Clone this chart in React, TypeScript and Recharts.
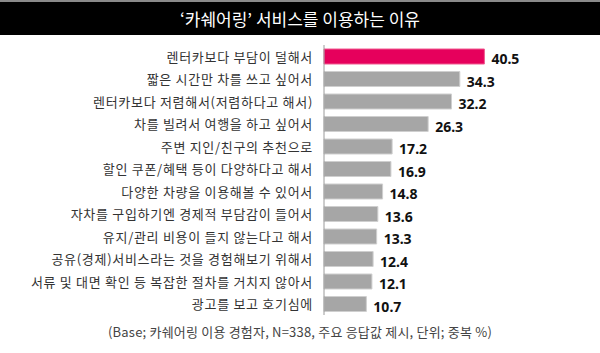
import React from "react";
import { BarChart, Bar, XAxis, YAxis, Cell, LabelList } from "recharts";

const categories = [
  "렌터카보다 부담이 덜해서",
  "짧은 시간만 차를 쓰고 싶어서",
  "렌터카보다 저렴해서(저렴하다고 해서)",
  "차를 빌려서 여행을 하고 싶어서",
  "주변 지인/친구의 추천으로",
  "할인 쿠폰/혜택 등이 다양하다고 해서",
  "다양한 차량을 이용해볼 수 있어서",
  "자차를 구입하기엔 경제적 부담감이 들어서",
  "유지/관리 비용이 들지 않는다고 해서",
  "공유(경제)서비스라는 것을 경험해보기 위해서",
  "서류 및 대면 확인 등 복잡한 절차를 거치지 않아서",
  "광고를 보고 호기심에",
];
const values = [40.5, 34.3, 32.2, 26.3, 17.2, 16.9, 14.8, 13.6, 13.3, 12.4, 12.1, 10.7];
const title = "‘카쉐어링’ 서비스를 이용하는 이유";
const footnote = "(Base; 카쉐어링 이용 경험자, N=338, 주요 응답값 제시, 단위; 중복 %)";

const data = categories.map((name, i) => ({ name, value: values[i] }));
const FONT = "'Noto Sans CJK KR', 'Noto Sans', sans-serif";

const ValueLabel = (props: any) => {
  const { x, y, width, height, value } = props;
  return (
    <text
      x={x + width + 7}
      y={y + height / 2 + 4}
      dominantBaseline="middle"
      textAnchor="start"
      fontFamily="'Noto Sans', sans-serif"
      fontWeight={700}
      fontSize={14}
      fill="#111"
    >
      {Number(value).toFixed(1)}
    </text>
  );
};

const CategoryTick = (props: any) => {
  const { x, y, payload } = props;
  return (
    <text
      x={x}
      y={y + 2}
      dominantBaseline="middle"
      textAnchor="end"
      fontFamily={FONT}
      fontSize={13}
      letterSpacing={0.7}
      fill="#333"
    >
      {payload.value}
    </text>
  );
};

export default function App() {
  return (
    <div style={{ position: "absolute", left: 0, top: 0, width: 600, height: 353, background: "#fff", fontFamily: FONT }}>
      <div style={{ position: "absolute", left: 0, top: 0, width: 600, height: 2, background: "#8a8a8a" }} />
      <div
        style={{
          position: "absolute",
          left: 0,
          top: 2,
          width: 600,
          height: 33,
          background: "#000",
          color: "#fff",
          fontSize: 17,
          lineHeight: "33px",
          textAlign: "center",
        }}
      >
        {title}
      </div>
      <div style={{ position: "absolute", left: 0, top: 0 }}>
        <BarChart
          width={600}
          height={353}
          data={data}
          layout="vertical"
          margin={{ top: 45, right: 78, bottom: 38, left: 0 }}
          barCategoryGap={3.75}
        >
          <XAxis type="number" domain={[0, 50]} hide />
          <YAxis
            type="category"
            dataKey="name"
            width={324}
            tickLine={false}
            tickSize={0}
            tickMargin={11}
            axisLine={{ stroke: "#9a9a9a", strokeWidth: 1 }}
            tick={CategoryTick}
            interval={0}
          />
          <Bar dataKey="value" barSize={15} isAnimationActive={false}>
            {data.map((d, i) => (
              <Cell key={d.name} fill={i === 0 ? "#e6005c" : "#a6a6a6"} stroke={i === 0 ? "#f05a90" : "#cfcfcf"} strokeWidth={1} />
            ))}
            <LabelList dataKey="value" content={ValueLabel} />
          </Bar>
        </BarChart>
      </div>
      <div
        style={{
          position: "absolute",
          left: 0,
          top: 322,
          width: 600,
          textAlign: "center",
          fontSize: 13,
          letterSpacing: 0.2,
          lineHeight: "20px",
          color: "#444",
        }}
      >
        {footnote}
      </div>
    </div>
  );
}
